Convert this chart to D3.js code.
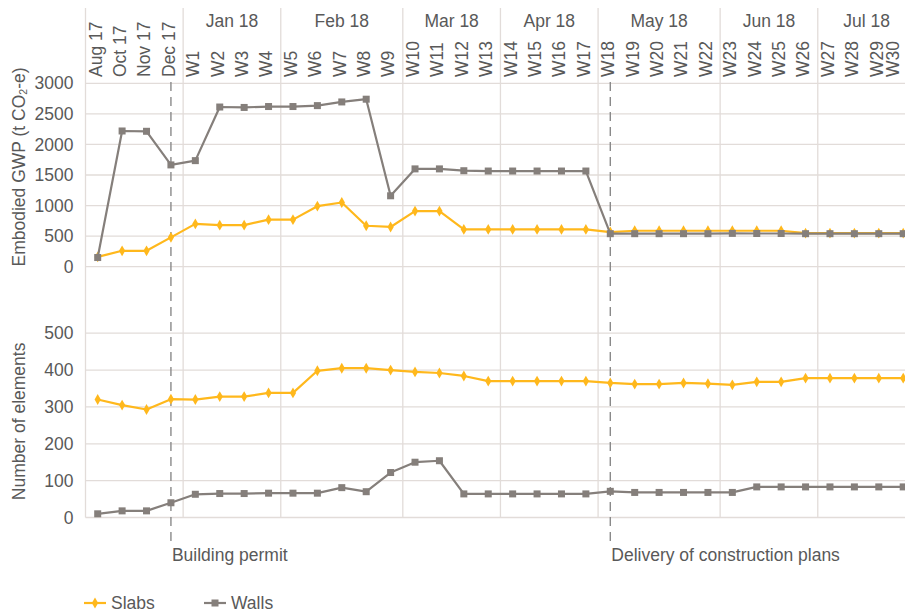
<!DOCTYPE html>
<html><head><meta charset="utf-8">
<script src="https://cdn.jsdelivr.net/npm/d3@7"></script>
<style>
body{margin:0;background:#fff;}
svg{display:block;font-family:"Liberation Sans",Arial,Helvetica,sans-serif;}
</style>
</head><body>
<svg id="chart" width="905" height="612"></svg>
<script>
const categories = ["Aug 17","Oct 17","Nov 17","Dec 17",
  "W1","W2","W3","W4","W5","W6","W7","W8","W9","W10","W11","W12","W13","W14","W15",
  "W16","W17","W18","W19","W20","W21","W22","W23","W24","W25","W26","W27","W28","W29","W30"];
const groupLabels = ["", "Jan 18", "Feb 18", "Mar 18", "Apr 18", "May 18", "Jun 18", "Jul 18"];
const groupSizes  = [4, 4, 5, 4, 4, 5, 4, 4];

const gwpSlabs = [160,260,260,480, 700,680,680,770, 770,990,1050,670,650, 910,910,610,610,
  610,610,610,610, 567,588,588,588,588, 588,588,588,548, 548,548,548,548];
const gwpWalls = [150,2220,2215,1665, 1735,2612,2605,2620, 2620,2635,2695,2740,1160, 1600,1600,1570,1565,
  1565,1565,1565,1565, 540,540,540,540,540, 545,543,543,540, 540,540,540,540];
const elemSlabs = [320,305,293,321, 320,328,328,338, 338,398,405,405,400, 395,392,384,370,
  370,370,370,370, 365,362,362,365,363, 360,368,368,378, 378,378,378,378];
const elemWalls = [10,18,18,40, 63,65,65,66, 66,66,81,70,122, 150,154,64,64,
  64,64,64,64, 71,68,68,68,68, 68,83,83,83, 83,83,83,83];

const gwpTicks = [0,500,1000,1500,2000,2500,3000];
const elemTicks = [0,100,200,300,400,500];
const milestones = [{at:"Dec 17", label:"Building permit"}, {at:"W18", label:"Delivery of construction plans"}];
const seriesNames = ["Slabs","Walls"];

const colSlabs = "#ffb81c", colWalls = "#857f7b", gridCol = "#e2dcd9", textCol = "#595959";
const FS = 17.5;

const svg = d3.select("#chart");
const x = d3.scalePoint().domain(categories).range([97.7, 903.2]);
const step = x.step();
const leftEdge = x(categories[0]) - step/2;
const yTop = d3.scaleLinear().domain([0,3000]).range([266.7, 83.3]);
const yBot = d3.scaleLinear().domain([0,500]).range([517.5, 333.2]);

// horizontal grid
function hgrid(scale, ticks){
  svg.append("g").selectAll("line").data(ticks).join("line")
    .attr("x1", leftEdge).attr("x2", 905)
    .attr("y1", d=>scale(d)).attr("y2", d=>scale(d))
    .attr("stroke", gridCol).attr("stroke-width", 1.3);
}
hgrid(yTop, gwpTicks);
hgrid(yBot, elemTicks);

// group boundaries (vertical lines)
let idx = 0; const bounds = [leftEdge]; const groupCenters = [];
groupSizes.forEach((n,i)=>{
  const a = x(categories[idx]) - step/2, b = x(categories[idx+n-1]) + step/2;
  groupCenters.push((a+b)/2);
  idx += n; bounds.push(b);
});
svg.append("g").selectAll("line").data(bounds).join("line")
  .attr("x1", d=>d).attr("x2", d=>d).attr("y1", 8).attr("y2", yBot(0))
  .attr("stroke", gridCol).attr("stroke-width", 1.3);

// top category labels (rotated)
svg.append("g").selectAll("text").data(categories).join("text")
  .attr("transform", d=>`translate(${Math.min(x(d), 895.5)},77) rotate(-90)`)
  .attr("dy","0.22em").attr("text-anchor","start")
  .attr("font-size", FS).attr("fill", textCol).text(d=>d);
svg.append("g").selectAll("text").data(groupLabels).join("text")
  .attr("x",(d,i)=>groupCenters[i]).attr("y",27).attr("text-anchor","middle")
  .attr("font-size", FS).attr("fill", textCol).text(d=>d);

// y axes labels
function yLabels(scale, ticks){
  svg.append("g").selectAll("text").data(ticks).join("text")
    .attr("x", 73.5).attr("y", d=>scale(d)).attr("dy","0.35em").attr("text-anchor","end")
    .attr("font-size", FS).attr("fill", textCol).text(d=>d);
}
yLabels(yTop, gwpTicks);
yLabels(yBot, elemTicks);

const t1 = svg.append("text").attr("transform",`translate(25,${(yTop(0)+yTop(3000))/2 - 8}) rotate(-90)`)
  .attr("text-anchor","middle").attr("font-size", FS).attr("fill", textCol);
t1.append("tspan").text("Embodied GWP (t CO");
t1.append("tspan").attr("font-size", FS*0.6).attr("dy","0.2em").text("2");
t1.append("tspan").attr("dy","-0.12em").text("-e)");
svg.append("text").attr("transform",`translate(25,${(yBot(0)+yBot(500))/2 - 4}) rotate(-90)`)
  .attr("text-anchor","middle").attr("font-size", FS).attr("fill", textCol).text("Number of elements");

// milestone dashed lines
milestones.forEach(m=>{
  svg.append("line").attr("x1", x(m.at)).attr("x2", x(m.at)).attr("y1", 82).attr("y2", 542)
    .attr("stroke", "#8a8a8a").attr("stroke-width", 1.4).attr("stroke-dasharray","9,6");
  svg.append("text").attr("x", x(m.at)+1).attr("y", 561).attr("font-size", FS).attr("fill", textCol).text(m.label);
});

// series
const diamond = d3.symbol().type(d3.symbolDiamond).size(34);
function drawSeries(vals, scale, color, isSquare){
  const line = d3.line().x((d,i)=>x(categories[i])).y(d=>scale(d));
  svg.append("path").datum(vals).attr("d", line).attr("fill","none")
    .attr("stroke", color).attr("stroke-width", 2.2).attr("stroke-linejoin","round");
  const g = svg.append("g");
  if(isSquare){
    g.selectAll("rect").data(vals).join("rect")
      .attr("x",(d,i)=>x(categories[i])-3.5).attr("y",d=>scale(d)-3.5)
      .attr("width",7).attr("height",7).attr("fill", color);
  } else {
    g.selectAll("path").data(vals).join("path").attr("d", diamond)
      .attr("transform",(d,i)=>`translate(${x(categories[i])},${scale(d)})`).attr("fill", color);
  }
}
drawSeries(gwpSlabs, yTop, colSlabs, false);
drawSeries(gwpWalls, yTop, colWalls, true);
drawSeries(elemSlabs, yBot, colSlabs, false);
drawSeries(elemWalls, yBot, colWalls, true);

// legend
const legend = svg.append("g");
const legX = [84, 204];
seriesNames.forEach((name,i)=>{
  const col = i===0 ? colSlabs : colWalls;
  const g = legend.append("g").attr("transform",`translate(${legX[i]},603)`);
  g.append("line").attr("x1",0).attr("x2",22).attr("y1",0).attr("y2",0).attr("stroke",col).attr("stroke-width",2.2);
  if(i===0) g.append("path").attr("d", diamond).attr("transform","translate(11,0)").attr("fill",col);
  else g.append("rect").attr("x",7.5).attr("y",-3.5).attr("width",7).attr("height",7).attr("fill",col);
  g.append("text").attr("x",27).attr("y",0).attr("dy","0.35em").attr("font-size",FS).attr("fill",textCol).text(name);
});
</script>
</body></html>
